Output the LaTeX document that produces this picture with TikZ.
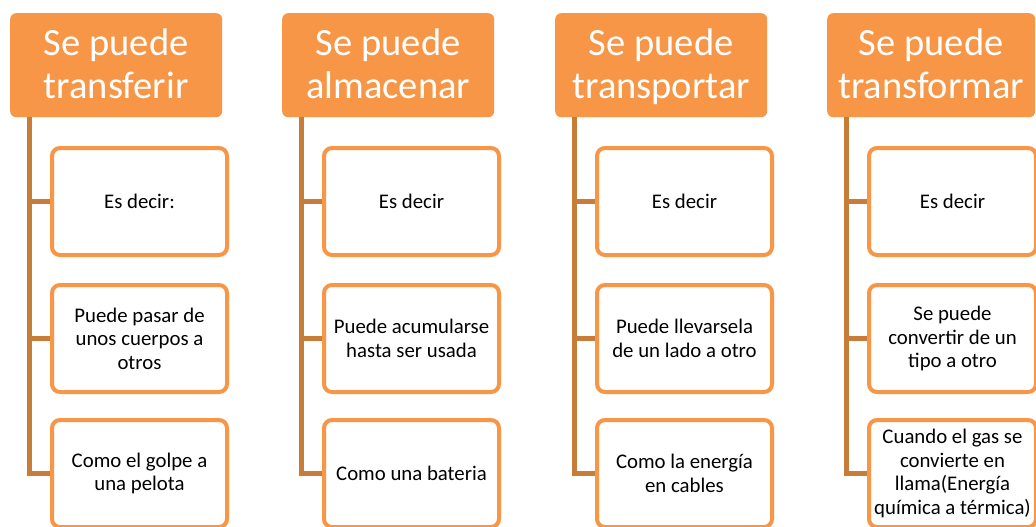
\documentclass[tikz,border=0pt]{standalone}
\usepackage{fontspec}
\setmainfont{Carlito}
\definecolor{org}{HTML}{F79646}
\definecolor{brn}{HTML}{C77C3A}
\newcommand\hup{\rule{0pt}{36pt}}
\tikzset{
  head/.style={fill=org, rounded corners=6pt, inner sep=0pt, anchor=north west,
    minimum width=212pt, minimum height=104pt, text=white, align=center,
    font=\fontsize{38.5}{43}\selectfont},
  kid/.style={draw=org, line width=4pt, fill=white, rounded corners=8pt, inner sep=0pt,
    anchor=north west, minimum width=175pt, minimum height=107pt, align=center,
    text=black, font=\fontsize{20.8}{23.5}\selectfont},
  conn/.style={draw=brn, line width=5pt}
}
\begin{document}
\begin{tikzpicture}[x=1pt,y=-1pt]
\path[use as bounding box, fill=white] (0,0) rectangle (1036,527);

% column 1
\node[head] (h1) at (10,13) {\hup Se puede\\transferir\strut};
\node[kid] (c11) at (50,146) {Es decir:};
\node[kid] (c12) at (50,283) {Puede pasar de\\unos cuerpos a\\otros};
\node[kid] (c13) at (50,418) {Como el golpe a\\una pelota};
\coordinate (t1) at ([xshift=19pt]h1.south west);

% column 2
\node[head] (h2) at (282,13) {\hup Se puede\\almacenar\strut};
\node[kid] (c21) at (322,146) {Es decir};
\node[kid] (c22) at (322,283) {Puede acumularse\\hasta ser usada};
\node[kid] (c23) at (322,418) {Como una bateria};
\coordinate (t2) at ([xshift=19pt]h2.south west);

% column 3
\node[head] (h3) at (555,13) {\hup Se puede\\transportar\strut};
\node[kid] (c31) at (595,146) {Es decir};
\node[kid] (c32) at (595,283) {Puede llevarsela\\de un lado a otro};
\node[kid] (c33) at (595,418) {Como la energía\\en cables};
\coordinate (t3) at ([xshift=19pt]h3.south west);

% column 4
\node[head, minimum width=208pt] (h4) at (827,13) {\hup Se puede\\transformar\strut};
\node[kid, minimum width=167pt] (c41) at (867,146) {Es decir};
\node[kid, minimum width=167pt] (c42) at (867,283) {Se puede\\convertir de un\\tipo a otro};
\node[kid, minimum width=167pt] (c43) at (867,418) {Cuando el gas se\\convierte en\\llama(Energía\\química a térmica)};
\coordinate (t4) at ([xshift=19pt]h4.south west);

\foreach \i in {1,2,3,4}{
  \draw[conn] (t\i) |- (c\i3.west);
  \draw[conn] (c\i1.west -| t\i) -- (c\i1.west);
  \draw[conn] (c\i2.west -| t\i) -- (c\i2.west);
}
\end{tikzpicture}
\end{document}
